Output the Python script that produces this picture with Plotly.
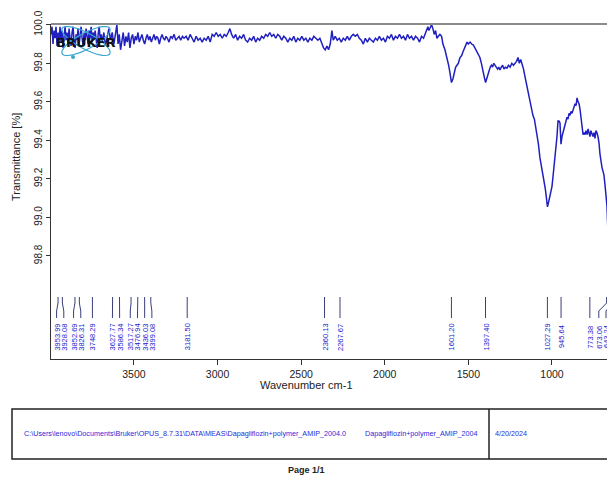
import plotly.graph_objects as go
import numpy as np

# ---------------- data ----------------
wavenumber = [
    3996, 3990, 3984, 3978, 3972, 3966, 3960, 3954, 3948, 3942, 3936, 3930, 3924, 3918, 3912, 3906,
    3900, 3894, 3888, 3882, 3876, 3870, 3864, 3858, 3852, 3846, 3840, 3834, 3828, 3822, 3816, 3810,
    3804, 3798, 3792, 3786, 3780, 3774, 3768, 3762, 3756, 3750, 3744, 3738, 3732, 3726, 3720, 3714,
    3708, 3702, 3696, 3690, 3680, 3670, 3660, 3650, 3640, 3630, 3620, 3610, 3602, 3595, 3588, 3580,
    3572, 3564, 3556, 3548, 3540, 3532, 3524, 3516, 3508, 3500, 3492, 3484, 3476, 3468, 3460, 3452,
    3444, 3436, 3428, 3420, 3412, 3404, 3396, 3388, 3380, 3372, 3364, 3356, 3348, 3340, 3332, 3324,
    3316, 3308, 3300, 3290, 3280, 3270, 3260, 3250, 3240, 3230, 3220, 3210, 3200, 3188, 3176, 3164,
    3152, 3140, 3128, 3116, 3104, 3092, 3080, 3068, 3056, 3044, 3032, 3020, 3008, 2996, 2984, 2972,
    2960, 2948, 2936, 2926, 2916, 2904, 2892, 2880, 2868, 2856, 2844, 2832, 2820, 2808, 2796, 2784,
    2772, 2760, 2748, 2736, 2724, 2712, 2700, 2688, 2676, 2664, 2652, 2640, 2628, 2616, 2604, 2592,
    2580, 2568, 2556, 2544, 2532, 2520, 2508, 2496, 2484, 2472, 2460, 2448, 2436, 2424, 2412, 2400,
    2388, 2376, 2366, 2356, 2346, 2336, 2326, 2316, 2308, 2296, 2284, 2272, 2260, 2248, 2236, 2224,
    2212, 2200, 2188, 2176, 2164, 2152, 2140, 2128, 2116, 2104, 2092, 2080, 2068, 2056, 2044, 2032,
    2020, 2008, 1996, 1984, 1972, 1960, 1948, 1936, 1924, 1912, 1900, 1888, 1876, 1864, 1852, 1840,
    1828, 1816, 1804, 1792, 1780, 1768, 1756, 1748, 1742, 1736, 1728, 1720, 1712, 1704, 1696, 1688,
    1680, 1670, 1660, 1652, 1640, 1628, 1618, 1610, 1601, 1592, 1584, 1576, 1568, 1560, 1550, 1540,
    1532, 1524, 1516, 1508, 1500, 1490, 1480, 1470, 1461, 1450, 1440, 1431, 1422, 1413, 1405, 1397,
    1390, 1383, 1376, 1369, 1362, 1355, 1348, 1341, 1333, 1325, 1318, 1311, 1303, 1295, 1287, 1279,
    1269, 1260, 1250, 1240, 1230, 1221, 1212, 1203, 1195, 1187, 1179, 1170, 1161, 1152, 1143, 1135,
    1128, 1120, 1114, 1105, 1098, 1090, 1081, 1072, 1063, 1054, 1046, 1040, 1033, 1027, 1020, 1012,
    1005, 1000, 994, 988, 982, 976, 970, 964, 958, 952, 946, 940, 934, 928, 922, 916,
    910, 904, 898, 892, 886, 880, 874, 868, 862, 856, 850, 844, 838, 832, 826, 820,
    814, 808, 802, 796, 790, 784, 778, 773, 767, 761, 755, 749, 743, 737, 731, 725,
    719, 713, 707, 701, 695, 689, 683, 677, 671, 665, 660, 655, 650, 645, 640, 635,
    629, 623, 617, 610,
]
transmittance = [
    99.95, 99.99, 99.90, 99.97, 99.93, 99.99, 99.89, 99.96, 99.92, 99.99, 99.91, 99.97, 99.88, 99.95, 99.99, 99.92,
    99.96, 99.90, 99.98, 99.93, 99.89, 99.96, 99.99, 99.91, 99.88, 99.95, 99.92, 99.98, 99.90, 99.94, 99.99, 99.93,
    99.89, 99.96, 99.92, 99.98, 99.94, 99.90, 99.97, 99.93, 99.99, 99.91, 99.96, 99.93, 99.97, 99.92, 99.88, 99.95,
    99.99, 99.93, 99.95, 99.91, 99.96, 99.89, 99.94, 99.98, 99.92, 99.96, 99.90, 99.97, 100.00, 99.90, 99.95, 99.87,
    99.93, 99.96, 99.89, 99.94, 99.91, 99.96, 99.88, 99.93, 99.95, 99.90, 99.94, 99.92, 99.96, 99.91, 99.93, 99.95,
    99.92, 99.90, 99.93, 99.95, 99.92, 99.94, 99.91, 99.93, 99.95, 99.92, 99.94, 99.93, 99.90, 99.93, 99.95, 99.93,
    99.92, 99.94, 99.93, 99.91, 99.94, 99.93, 99.95, 99.92, 99.93, 99.94, 99.92, 99.94, 99.93, 99.94, 99.92, 99.95,
    99.93, 99.91, 99.94, 99.92, 99.93, 99.91, 99.93, 99.92, 99.94, 99.91, 99.95, 99.94, 99.96, 99.94, 99.95, 99.93,
    99.95, 99.94, 99.96, 99.98, 99.95, 99.93, 99.95, 99.92, 99.94, 99.93, 99.95, 99.92, 99.91, 99.93, 99.92, 99.94,
    99.91, 99.93, 99.92, 99.94, 99.93, 99.95, 99.94, 99.96, 99.94, 99.95, 99.93, 99.95, 99.94, 99.92, 99.94, 99.93,
    99.91, 99.93, 99.92, 99.94, 99.91, 99.93, 99.92, 99.94, 99.92, 99.93, 99.91, 99.93, 99.92, 99.94, 99.93, 99.92,
    99.93, 99.90, 99.88, 99.87, 99.89, 99.87, 99.90, 99.97, 99.92, 99.94, 99.92, 99.93, 99.91, 99.93, 99.92, 99.94,
    99.92, 99.94, 99.95, 99.94, 99.95, 99.93, 99.92, 99.90, 99.93, 99.91, 99.93, 99.92, 99.91, 99.93, 99.92, 99.94,
    99.92, 99.93, 99.91, 99.94, 99.93, 99.95, 99.92, 99.94, 99.93, 99.95, 99.93, 99.94, 99.92, 99.95, 99.93, 99.94,
    99.92, 99.94, 99.93, 99.91, 99.94, 99.93, 99.96, 99.97, 99.99, 99.97, 99.99, 100.00, 99.98, 99.95, 99.97, 99.93,
    99.94, 99.95, 99.94, 99.90, 99.87, 99.83, 99.79, 99.75, 99.70, 99.72, 99.76, 99.78, 99.79, 99.80, 99.83, 99.84,
    99.86, 99.88, 99.89, 99.91, 99.90, 99.91, 99.90, 99.895, 99.88, 99.86, 99.85, 99.83, 99.80, 99.77, 99.73, 99.70,
    99.72, 99.74, 99.77, 99.78, 99.79, 99.78, 99.80, 99.79, 99.78, 99.77, 99.78, 99.765, 99.78, 99.79, 99.77, 99.78,
    99.775, 99.79, 99.78, 99.80, 99.79, 99.80, 99.81, 99.83, 99.80, 99.82, 99.80, 99.77, 99.73, 99.69, 99.65, 99.61,
    99.59, 99.56, 99.53, 99.51, 99.47, 99.44, 99.38, 99.31, 99.27, 99.23, 99.19, 99.15, 99.10, 99.055, 99.08, 99.11,
    99.13, 99.16, 99.21, 99.26, 99.31, 99.37, 99.42, 99.50, 99.50, 99.49, 99.38, 99.42, 99.44, 99.46, 99.49, 99.50,
    99.52, 99.51, 99.54, 99.53, 99.55, 99.54, 99.56, 99.57, 99.59, 99.58, 99.62, 99.60, 99.59, 99.56, 99.51, 99.46,
    99.43, 99.44, 99.43, 99.45, 99.43, 99.46, 99.44, 99.42, 99.45, 99.43, 99.42, 99.44, 99.41, 99.45, 99.44, 99.42,
    99.39, 99.33, 99.29, 99.26, 99.24, 99.22, 99.17, 99.13, 99.06, 98.92, 99.12, 99.16, 99.14, 99.12, 99.10, 98.95,
    98.85, 98.75, 98.70, 98.66,
]

peak_wavenumbers = [3953.99, 3928.08, 3852.69, 3826.31, 3748.29, 3627.77, 3586.34, 3517.27, 3476.94,
                    3436.03, 3399.08, 3181.50, 2360.13, 2267.67, 1601.20, 1397.40, 1027.29, 945.64,
                    773.38, 673.06, 643.24]
peak_labels = ["3953.99", "3928.08", "3852.69", "3826.31", "3748.29", "3627.77", "3586.34", "3517.27",
               "3476.94", "3436.03", "3399.08", "3181.50", "2360.13", "2267.67", "1601.20", "1397.40",
               "1027.29", "945.64", "773.38", "673.06", "643.24"]

y_tick_values = [98.8, 99.0, 99.2, 99.4, 99.6, 99.8, 100.0]
y_tick_labels = ["98.8", "99.0", "99.2", "99.4", "99.6", "99.8", "100.0"]
x_tick_values = [3500, 3000, 2500, 2000, 1500, 1000]
x_tick_labels = ["3500", "3000", "2500", "2000", "1500", "1000"]

file_path = r"C:\Users\lenovo\Documents\Bruker\OPUS_8.7.31\DATA\MEAS\Dapagliflozin+polymer_AMIP_2004.0"
sample_name = "Dapagliflozin+polymer_AMIP_2004"
date_text = "4/20/2024"

# ---------------- layout geometry ----------------
OFF = 8                      # page body margin of the browser
W, H = 615 - OFF, 477 - OFF
L, T = 51 - OFF, 24 - OFF
PW, PH = W - L, 335
B = H - T - PH
XR = [3996, 623]
YR = [98.265, 100.004]
FONT = "Liberation Sans, Arial, sans-serif"

def px_x(px):  # reference pixel -> paper x
    return (px - OFF - L) / PW

def px_y(py):  # reference pixel -> paper y
    return (H - B - (py - OFF)) / PH

def dy(py):  # reference pixel -> data y
    return YR[1] - (py - OFF - T) / PH * (YR[1] - YR[0])

# spread label positions so they don't overlap, keep inside the visible plot
wn_per_px = (XR[0] - XR[1]) / PW
min_gap = 7.2 * wn_per_px
right_limit = XR[1] + 9 * wn_per_px
pos = list(peak_wavenumbers)
for _ in range(500):
    moved = False
    if pos[-1] < right_limit:
        pos[-1] = right_limit
        moved = True
    for i in range(1, len(pos)):
        gap = pos[i - 1] - pos[i]
        if gap < min_gap - 1e-6:
            shift = (min_gap - gap) / 2
            pos[i - 1] += shift
            pos[i] -= shift
            moved = True
    if not moved:
        break

fig = go.Figure()

# peak pick leader lines
lx, ly = [], []
y_top, y_b1, y_b2, y_bot = dy(297), dy(303), dy(311), dy(318)
for p, q in zip(peak_wavenumbers, pos):
    lx += [p, p, q, q, None]
    ly += [y_top, y_b1, y_b2, y_bot, None]
fig.add_trace(go.Scatter(x=lx, y=ly, mode="lines",
                         line=dict(color="#3a3f7a", width=1), hoverinfo="skip", showlegend=False))

fig.add_trace(go.Scatter(x=wavenumber, y=transmittance, mode="lines",
                         line=dict(color="#2020c0", width=1.5), showlegend=False))

annotations = []
for q, lab in zip(pos, peak_labels):
    annotations.append(dict(x=q, y=dy(337), xref="x", yref="y", text=lab, showarrow=False,
                            textangle=-90, font=dict(family=FONT, size=7.5, color="#2020d0"),
                            xanchor="center", yanchor="middle"))

annotations += [
    dict(x=px_x(306), y=px_y(385), xref="paper", yref="paper", text="Wavenumber cm-1", showarrow=False,
         font=dict(family=FONT, size=11, color="#222"), xanchor="center", yanchor="middle"),
    dict(x=px_x(16), y=px_y(157), xref="paper", yref="paper", text="Transmittance [%]", showarrow=False,
         textangle=-90, font=dict(family=FONT, size=11, color="#222"),
         xanchor="center", yanchor="middle"),
    dict(x=px_x(22), y=px_y(433), xref="paper", yref="paper", text=file_path, showarrow=False,
         font=dict(family=FONT, size=7.2, color="#2a2ad8"), xanchor="left", yanchor="middle"),
    dict(x=px_x(363), y=px_y(433), xref="paper", yref="paper", text=sample_name, showarrow=False,
         font=dict(family=FONT, size=7.2, color="#2a2ad8"), xanchor="left", yanchor="middle"),
    dict(x=px_x(493), y=px_y(433), xref="paper", yref="paper", text=date_text, showarrow=False,
         font=dict(family=FONT, size=7.2, color="#2a2ad8"), xanchor="left", yanchor="middle"),
    dict(x=px_x(306), y=px_y(470), xref="paper", yref="paper", text="<b>Page 1/1</b>", showarrow=False,
         font=dict(family=FONT, size=9, color="#222"), xanchor="center", yanchor="middle"),
    dict(x=px_x(85), y=px_y(42), xref="paper", yref="paper", text="<b>BRUKER</b>", showarrow=False,
         font=dict(family="DejaVu Sans, Arial", size=13, color="#111"), xanchor="center", yanchor="middle"),
]

# logo orbits (decoration)
def ellipse_path(cx, cy, a, b, ang):
    t = np.linspace(0, 2 * np.pi, 40)
    c, s = np.cos(np.radians(ang)), np.sin(np.radians(ang))
    xs = cx + a * np.cos(t) * c - b * np.sin(t) * s
    ys = cy + a * np.cos(t) * s + b * np.sin(t) * c
    pts = [f"{px_x(x):.4f},{px_y(y):.4f}" for x, y in zip(xs, ys)]
    return "M" + " L".join(pts) + " Z"

shapes = [
    dict(type="path", xref="paper", yref="paper", path=ellipse_path(86, 41, 27, 8, 28),
         line=dict(color="#3aa6cf", width=1.2)),
    dict(type="path", xref="paper", yref="paper", path=ellipse_path(86, 41, 27, 8, -28),
         line=dict(color="#3aa6cf", width=1.2)),
    dict(type="circle", xref="paper", yref="paper", x0=px_x(71), x1=px_x(75), y0=px_y(59), y1=px_y(55),
         fillcolor="#3aa6cf", line=dict(width=0)),
    # top frame line
    dict(type="line", xref="paper", yref="paper", x0=0, x1=1.01, y0=1, y1=1,
         line=dict(color="#8a8a8a", width=2)),
    # bottom info box
    dict(type="rect", xref="paper", yref="paper", x0=px_x(12), x1=px_x(640), y0=px_y(459), y1=px_y(409),
         line=dict(color="#222", width=1.5)),
    dict(type="line", xref="paper", yref="paper", x0=px_x(489), x1=px_x(489), y0=px_y(459), y1=px_y(409),
         line=dict(color="#222", width=1.5)),
]

fig.update_layout(
    width=W, height=H,
    margin=dict(l=L, r=0, t=T, b=B),
    paper_bgcolor="white", plot_bgcolor="white",
    annotations=annotations, shapes=shapes,
    showlegend=False,
    xaxis=dict(range=XR, tickvals=x_tick_values, ticktext=x_tick_labels, ticks="outside", ticklen=5,
               tickcolor="#333", showline=True, linecolor="#333", linewidth=1, showgrid=False, zeroline=False,
               tickfont=dict(family=FONT, size=10.5, color="#222")),
    yaxis=dict(range=YR, tickvals=y_tick_values, ticktext=y_tick_labels, ticks="outside", ticklen=4,
               tickcolor="#333", showline=True, linecolor="#333", linewidth=1, showgrid=False, zeroline=False,
               tickangle=-90, tickfont=dict(family=FONT, size=10, color="#222")),
)

fig.write_html("out.html")
